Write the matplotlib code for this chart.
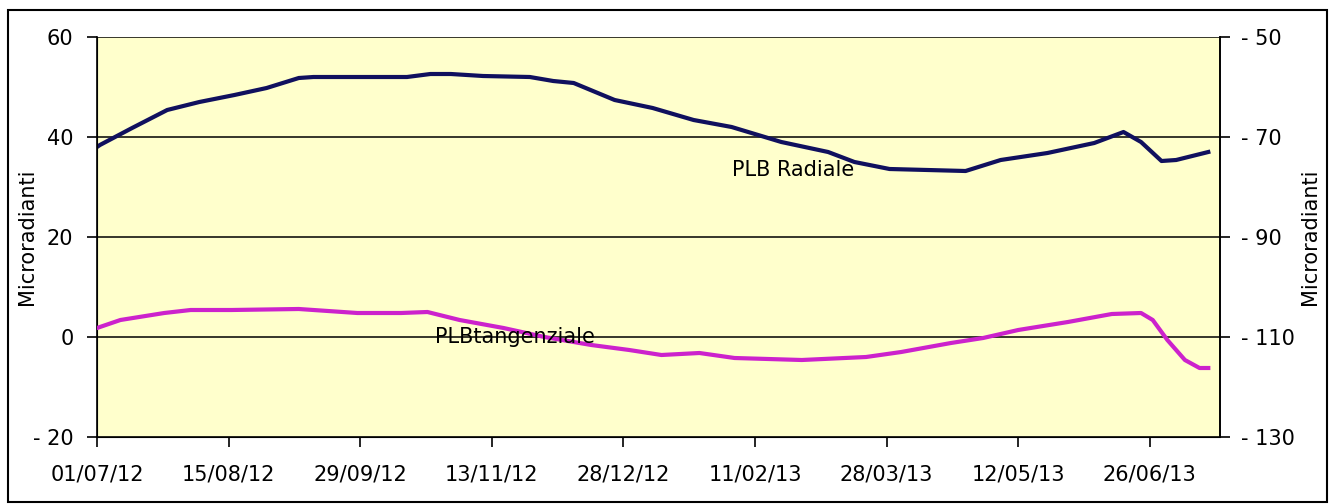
import matplotlib.pyplot as plt
import numpy as np
import pandas as pd
from matplotlib.patches import Rectangle
from matplotlib.ticker import FuncFormatter

plt.rcParams["font.family"] = ["DejaVu Sans"]

start = pd.Timestamp("2012-07-01")

# PLB Radiale (left axis), days from 01/07/12
radiale_days = [0, 1, 12, 24, 35, 47, 58, 69, 74, 106, 114, 121, 132, 148, 156,
                163, 177, 190, 204, 217, 234, 250, 259, 271, 297, 309, 325, 341,
                351, 357, 364, 369, 380]
radiale_vals = [38, 38.4, 41.8, 45.4, 47, 48.4, 49.8, 51.8, 52, 52, 52.6, 52.6,
                52.2, 52, 51.2, 50.8, 47.4, 45.8, 43.4, 42, 39, 37, 35, 33.6,
                33.2, 35.4, 36.8, 38.8, 41, 39, 35.2, 35.4, 37]

# PLB tangenziale (right axis)
tang_days = [0, 8, 23, 32, 46, 69, 89, 104, 113, 124, 139, 153, 169, 182, 193,
             206, 218, 241, 263, 275, 292, 303, 315, 332, 347, 357, 361, 366,
             372, 377, 380]
tang_vals = [-108.2, -106.6, -105.2, -104.6, -104.6, -104.4, -105.2, -105.2,
             -105, -106.6, -108.2, -110, -111.6, -112.6, -113.6, -113.2, -114.2,
             -114.6, -114, -113, -111.2, -110.2, -108.6, -107, -105.4, -105.2,
             -106.6, -110.6, -114.6, -116.2, -116.2]

tick_labels = ["01/07/12", "15/08/12", "29/09/12", "13/11/12", "28/12/12",
               "11/02/13", "28/03/13", "12/05/13", "26/06/13"]

x_rad = start + pd.to_timedelta(radiale_days, unit="D")
x_tan = start + pd.to_timedelta(tang_days, unit="D")
ticks = [pd.to_datetime(t, format="%d/%m/%y") for t in tick_labels]


def excel_fmt(v, pos):
    v = int(round(v))
    return "- %d" % abs(v) if v < 0 else "%d" % v


fs = 15

fig = plt.figure(figsize=(13.31, 5.04), dpi=100)
ax = fig.add_axes([97 / 1331, 1 - 437 / 504, (1220 - 97) / 1331, 400 / 504])
ax.set_facecolor("#ffffcc")

for g in [0, 20, 40, 60]:
    ax.axhline(g, color="black", lw=1.1, zorder=1)

ax.plot(x_rad, radiale_vals, color="#10105e", lw=3, zorder=3)
ax.set_ylim(-20, 60)
ax.set_yticks([-20, 0, 20, 40, 60])
ax.yaxis.set_major_formatter(FuncFormatter(excel_fmt))
ax.set_xlim(start, start + pd.Timedelta(days=384))
ax.set_xticks(ticks)
ax.set_xticklabels(tick_labels)
ax.set_ylabel("Microradianti", fontsize=fs)
ax.yaxis.set_label_coords(-0.053, 0.5)

ax.spines["top"].set_visible(False)
for s in ["left", "bottom", "right"]:
    ax.spines[s].set_linewidth(1.2)
ax.tick_params(axis="x", length=7, width=1.2, labelsize=fs, pad=13)
ax.tick_params(axis="y", length=7, width=1.2, labelsize=fs, pad=10)

ax2 = ax.twinx()
ax2.plot(x_tan, tang_vals, color="#cc22cc", lw=3, zorder=3)
ax2.set_ylim(-130, -50)
ax2.set_yticks([-130, -110, -90, -70, -50])
ax2.yaxis.set_major_formatter(FuncFormatter(excel_fmt))
ax2.spines["top"].set_visible(False)
ax2.spines["right"].set_linewidth(1.2)
ax2.tick_params(axis="y", length=7, width=1.2, labelsize=fs, pad=8)
ax2.set_ylabel("Microradianti", fontsize=fs, rotation=90, labelpad=4)

ax.text(start + pd.Timedelta(days=238), 33.4, "PLB Radiale", fontsize=fs,
        ha="center", va="center", zorder=5)
ax2.text(start + pd.Timedelta(days=143), -110, "PLBtangenziale", fontsize=fs,
         ha="center", va="center", zorder=5)

fig.patches.append(Rectangle((8 / 1331, 2 / 504), 1319 / 1331, 492 / 504,
                             transform=fig.transFigure, fill=False,
                             edgecolor="black", lw=1.5))

fig.savefig("out.png", dpi=100)
